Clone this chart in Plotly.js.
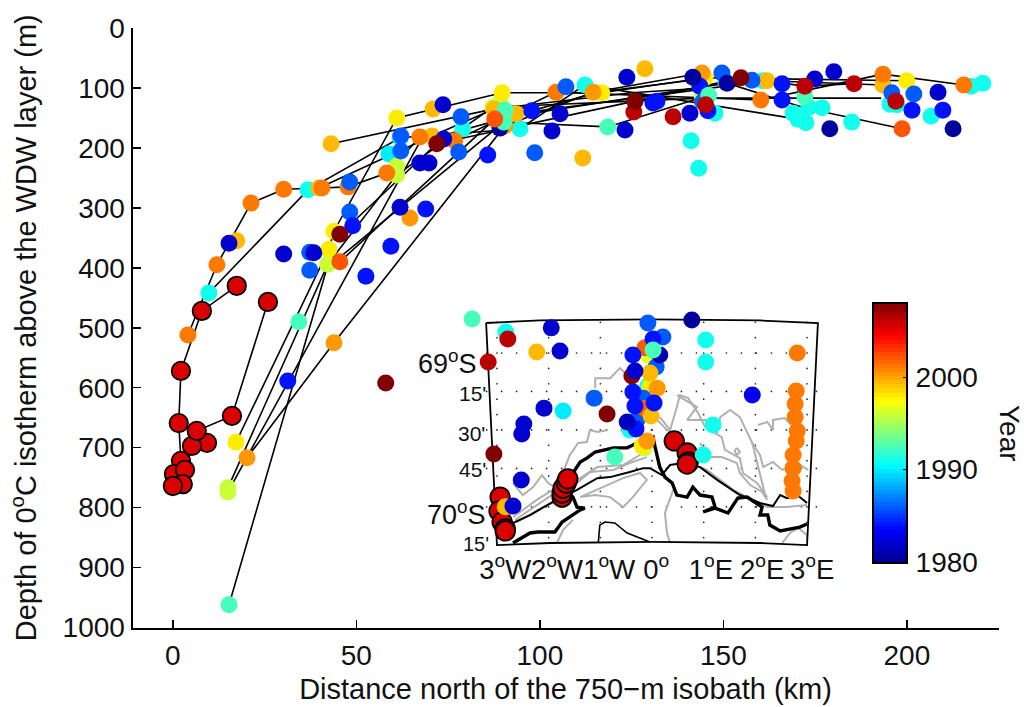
<!DOCTYPE html>
<html><head><meta charset="utf-8">
<script src="https://cdn.plot.ly/plotly-3.0.1.min.js"></script>
<style>html,body{margin:0;padding:0;background:#fff}</style></head>
<body><div id="chart" style="width:1024px;height:707px"></div>
<script>
// ---- Main panel: distance north of isobath (km), depth (m), grouped by year
const turqKm=[9.8,36.8,61.9,79,94.6,112.3,141.2,143.3,147.7,150.7,160.8,169,170.3,172.5,173.3,176.9,185,195.4,197.3,206.6,217.5,220.7];
const turqDepth=[442,270,183,168,168,95,188,234,142,90,88,142,152,158,132,133,157,127,128,147,97,92];
const cyanKm=[58.9]; const cyanDepth=[210];
const limeKm=[15,15,42.2,61,61,87.2,89.1,144.2];
const limeDepth=[767,774,394,230,245,132,125,112];
const yellowKm=[17.2,42.5,43.9,61,89.7,116.9,145,200];
const yellowDepth=[691,369,339,150,108,108,83,88];
const goldKm=[17.4,39.8,43.1,70.6,70.9,87.5,93.5,111.7,128.6,161.9,193.5];
const goldDepth=[355,267,193,180,135,135,143,217,68,88,95];
const amberKm=[20.2,43.9,64.6,90.5,114.5,144.2];
const amberDepth=[717,525,317,163,107,75];
const orangeKm=[4.1,12,21.3,30.2,40.6,47.7,58.3,67.3,76.8,104.4,160.2,193.5,215.5];
const orangeDepth=[512,395,292,269,267,265,242,182,188,107,120,77,95];
const midblueKm=[48.2,48.2,62.1,62.1,37.3,37.3,78.5,77.9,98.6,107.1,144.4,149.6,157.8,195.9,201.9];
const midblueDepth=[307,257,180,205,374,404,148,207,208,98,123,75,87,108,110];
const blueKm=[49,68.9,59.4,52.6,31.3,85.8,97.8,130.8,131.9,143.6,145.8,166,166,201.4,209.8];
const blueDepth=[330,302,364,414,589,212,138,125,122,97,138,93,120,137,137];
const dkblueKm=[15.3,30.2,38.4,61.9,67.3,69.8,73.6,73.8,105.5,103.3,123.2,123.7,140.9,174.9,180.1,208.5];
const dkblueDepth=[359,377,375,299,225,225,128,185,143,172,170,82,142,85,73,107];
const navyKm=[89.1,141.7,151,179,212.6];
const navyDepth=[167,82,92,168,168];
const greenKm=[15.3,34.3,90.5,90.2,118.5,146,172.2];
const greenDepth=[962,490,137,157,165,112,115];
const redorangeKm=[45.5,87.7,198.7];
const redorangeDepth=[390,152,168];
const dkredKm=[125.6,136.3,145.2,172.2,185.6,197];
const dkredDepth=[140,148,128,97,93,122];
const maroonKm=[45.5,58,71.9,125.9,154.8];
const maroonDepth=[344,592,193,122,83];
const redKm=[17.4,25.9,7.9,2.2,16.1,1.6,9.3,5.2,6.5,2.2,0.3,3.3,2.7,0];
const redDepth=[430,457,472,572,647,659,692,697,672,722,744,737,761,764];
const groups=[[turqKm,turqDepth,1991],[cyanKm,cyanDepth,1990],[limeKm,limeDepth,1996],
 [yellowKm,yellowDepth,1998],[goldKm,goldDepth,1999.4],[amberKm,amberDepth,2000.3],[orangeKm,orangeDepth,2001.2],
 [midblueKm,midblueDepth,1986],[blueKm,blueDepth,1984],[dkblueKm,dkblueDepth,1982],[navyKm,navyDepth,1980.5],
 [greenKm,greenDepth,1992.4],[redorangeKm,redorangeDepth,2002.2],[dkredKm,dkredDepth,2006.4],[maroonKm,maroonDepth,2008]];
const redYear=2005.5;

// section lines (km, depth)
const sectionLines=[
 [orangeKm,orangeDepth],
 [yellowKm,yellowDepth],
 [[20.2,43.9,90.5,114.5,144.2],[717,525,163,107,75]],
 [[43.1,87.5,93.5,161.9,193.5],[193,135,143,88,95]],
 [[39.8,70.6,87.5,125,145],[267,180,135,108,100]],
 [[15,42.2,61,87.2,144.2,172,193],[767,394,245,132,117,117,117]],
 [[15,67.3,116,144],[774,190,107,85]],
 [[15.3,42,90.2,118.5,146],[962,400,157,165,112]],
 [[9.8,36.8,61.9,94.6,112.3,147.7,170.3],[442,270,183,168,95,130,152]],
 [[45.5,87.7,151,172,198.7],[390,152,92,133,168]],
 [[45.5,71.9,125.9,154.8,172.2,185.6],[344,193,122,83,97,93]],
 [[17.4,7.9,2.2,1.6,2.2,3.3,0.3,0],[430,472,572,659,722,737,744,764]],
 [[25.9,16.1,6.5,3.3,2.7],[457,647,672,737,761]]
];

// ---- Inset map: longitude (deg, + east), minutes south of 69 deg S
const insetRedLon=[0.43,0.68,0.7,0.68,-1.74,-1.74,-1.72,-1.66,-1.63,-2.94,-2.96,-2.9,-2.84,-2.84];
const insetRedMin=[34.3,39,42.5,43.3,56.2,54.6,52.7,50.7,49.1,56.2,61.6,65.9,68.6,69.4];
const insetLon=[2.81,2.79,2.77,2.77,2.81,2.79,2.73,2.73,2.71,2.73,
 -2.83,1.04,1.04,1.18,0.99,-0.08,-0.43,-1.72,-3.48,-0.72,
 -0.15,-0.19,-0.08,-0.04,
 -0.17,-0.29,0.08,-1.12,0.21,
 -0.14,-0.14,-0.02,-0.04,0.1,-0.1,-2.23,
 -0.39,-0.87,-3.06,-2.79,-3.17,
 -0.37,-0.37,-0.33,0.04,-0.31,0.02,1.94,
 -0.33,-0.48,-2.09,-1.95,-1.78,-2.48,-2.52,-2.53,
 0.15,0.77,0.02,-0.08,-2.84,-2.69];
const insetMin=[0,14.8,19.9,25,30.4,34.3,39.8,44.9,49.9,53.8,
 -8.2,-5.1,3.5,28.1,39.8,12.9,30,22.6,-13.3,40.6,
 37,36.3,0.8,13.3,
 17.6,26.1,5.5,17.6,-6.2,
 -2,21.5,24.6,7.8,13.7,34.3,-0.4,
 9,23.8,39.4,-5.5,3.5,
 0.8,15.2,20.7,19.5,29.6,-5.5,16.4,
 7,26.9,21.5,-9.8,-0.8,27.7,31.6,49.5,
 0.8,-12.9,-1.2,-11.7,60,59.7];
const insetYear=[2001.2,2001.2,2001.2,2001.2,2001.2,2001.2,2001.2,2001.2,2001.2,2001.2,
 1991,1991,1991,1991,1991,1991,1991,1990,1992.4,1992.4,
 1996,1998,1997,1998,
 1986,1986,1986,1986,1986,
 2002,2002,1999.4,1999.4,2000.3,2000.3,1999.4,
 2008,2008,2008,2006.4,2006.4,
 1984,1984,1984,1984,1984,1984,1983,
 1982,1981.5,1982,1982,1982,1982,1982,1982,
 1981,1980.5,1992.4,1986,1999.4,1982];

const frameLon=[-3.21,-2.17,0,2.09,3.21,3,2.09,0,-1.97,-3,-3.21];
const frameMin=[-11.7,-12.7,-13.1,-12.7,-11.7,74.9,74.1,73.7,74.1,74.9,-11.7];
const iceFrontLon=[-2.69,-2.36,-2.21,-1.88,-1.74,-1.39,-1.3,-1.45,-1.53,-1.66,-1.49,-1.39,-1.26,-1.1,-0.75,-0.48,-0.29,0.02,0.06,0.15,0.25,0.39,0.48,0.68,0.79,0.93,1.16,1.22,0.99,1.22,1.47,1.66,1.84,2.13,2.09,2.24,2.28,2.48,2.86,3];
const iceFrontMin=[74.1,70.2,69.8,69.8,65.9,61.2,60.5,60.1,56.2,53.4,45.6,42.5,41,38.6,37,37,35.1,32.8,36.7,44.5,48.4,50.7,55.4,56.2,52.3,55.4,56.2,60.1,62,60.5,62.4,56.6,56.2,60.1,63.2,63.2,67.1,69.4,67.9,66.7];
const isobathLon=[-2.69,-2.36,-1.92,-1.45,-1.06,-0.81,-0.43,-0.17,-0.04,0.19,0.35,0.6,0.93,1.26,1.7,2.09,2.34,2.48,2.61,2.81,3];
const isobathMin=[66.3,63.2,58.1,53.4,48.8,48.4,46.4,44.9,44.9,47.6,43.7,42.9,44.5,49.5,55.4,58.5,59.7,55.4,56.6,55.4,58.5];
const groundingLon=[-1.04,-1.01,-0.91,-0.72,-0.48,-0.04];
const groundingMin=[74.1,67.1,65.9,66.3,70.2,73.7];
const bathyContours=[
 [[-2.69,-2.5,-2.3,-2.13,-2.01,-1.88,-1.72,-1.59,-1.43,-1.26,-1.2,-1.06,-0.85],[50.7,55.4,52.3,47.6,50.7,52.3,46.4,39.8,35.1,34.7,30,30.8,30]],
 [[-1.1,-1.1,-0.81,-0.62,-0.48],[13.7,9.8,9.8,5.9,8.6]],
 [[-2.65,-2.17,-1.88,-1.45,-1.2,-0.75,-0.43,-0.1],[65.1,58.5,54.6,50.7,46.4,45.6,42.9,40.6]],
 [[-2.69,-2.23,-1.92,-1.39,-1.06,-0.56,-0.17],[64,57.3,53.4,48.8,44.5,43.7,39]],
 [[-2.61,-2.11,-1.78],[65.9,60.1,57.3]],
 [[-1.39,-0.95,-0.56,-0.23,-0.1,-0.37,-0.56,-0.81,-1.1,-1.39],[56.2,52.3,48.8,46.8,49.5,56.2,60.1,56.2,55.4,56.2]],
 [[-1.84,-1.72,-1.53],[74.1,69,65.1]],
 [[0.41,0.25,0.29,0.35],[53.4,62.4,70.2,74.1]],
 [[0.74,1.06,1.57,1.95,2.23,2.61,3],[42.9,45.6,53.4,57.3,60.1,60.1,59.3]],
 [[2.52,2.67,2.83,3],[74.1,70.2,68.3,71]],
 [[0.15,0.35,0.48,0.54,0.7,0.89,1.03,1.35,1.41,1.7,1.76,2.03,2.23],[25,30,21.1,16.4,17.6,23.4,28.9,32.8,37.8,41,46.8,50.7,56.2]],
 [[1.26,1.32,1.51,1.7,1.94,2.09,2.15,2.34,2.52,2.81,3.02],[31.2,25,22.2,25,35.1,39.8,44.5,42.5,45.6,42.9,45.6]],
 [[2.05,2.23,2.34,2.34,2.57,2.73],[28.1,26.9,30,26.1,25.4,28.9]],
 [[0.93,1.12,1.35,1.64,1.7,1.9,2.13,2.23],[35.1,40.6,40.6,42.9,46.8,51.5,54.2,57.3]],
 [[1.94,2.09,2.19],[35.1,46.8,55.4]],
 [[1.64,1.7,1.64,1.6,1.64],[37,38.6,39.8,38.2,37]],
 [[0.1,0.29,0.41],[26.1,30,31.2]],
 [[0.48,0.87,0.68,1.06],[16.4,21.1,26.1,26.1]]
];
const gridLons=[-3,-2,-1,0,1,2,3];
const gridMins=[0,15,30,45,60];

const xTickVals=[0,50,100,150,200];
const yTickVals=[0,100,200,300,400,500,600,700,800,900,1000];
const insetXVals=[-2.84,-1.84,-0.83,0.08,1.14,2.13,3.10];
const insetXText=['3<sup>o</sup>W','2<sup>o</sup>W','1<sup>o</sup>W','0<sup>o</sup>','1<sup>o</sup>E','2<sup>o</sup>E','3<sup>o</sup>E'];
const insetYLabels=[['69<sup>o</sup>S',-3.35,3.5,27],["15'",-3.17,15.6,21],["30'",-3.19,31.2,21],["45'",-3.17,45.6,21],['70<sup>o</sup>S',-3.17,62.4,27],["15'",-3.12,74.6,20]];
const colorbarTicks=[1980,1990,2000];
const jet=[[0,'#00008f'],[0.125,'#0000ff'],[0.375,'#00ffff'],[0.625,'#ffff00'],[0.875,'#ff0000'],[1,'#800000']];

const FONT='"Liberation Sans", Arial, sans-serif';
const W=1024,H=707;
const traces=[];
// main lines
sectionLines.forEach(s=>traces.push({x:s[0],y:s[1],mode:'lines',type:'scatter',line:{color:'#000',width:1.6},hoverinfo:'skip',showlegend:false}));
// main dots
let km=[],dep=[],yr=[];
groups.forEach(g=>{g[0].forEach((v,i)=>{km.push(v);dep.push(g[1][i]);yr.push(g[2]);});});
traces.push({x:km,y:dep,mode:'markers',type:'scatter',cliponaxis:false,showlegend:false,
 marker:{size:17,color:yr,coloraxis:'coloraxis',line:{width:0}}});
traces.push({x:redKm,y:redDepth,mode:'markers',type:'scatter',cliponaxis:false,showlegend:false,
 marker:{size:18.5,color:redKm.map(()=>redYear),coloraxis:'coloraxis',line:{width:1.8,color:'#000'}}});
// inset
function ins(x,y,color,width){traces.push({x:x,y:y,xaxis:'x2',yaxis:'y2',mode:'lines',type:'scatter',line:{color:color,width:width},hoverinfo:'skip',showlegend:false});}
const gx=[],gy=[];
gridMins.forEach(m=>{for(let l=-3.2;l<=3.2;l+=0.29){gx.push(l);gy.push(m);}});
gridLons.forEach(l=>{for(let m=-12;m<=74;m+=6){gx.push(l);gy.push(m);}});
traces.push({x:gx,y:gy,xaxis:'x2',yaxis:'y2',mode:'markers',type:'scatter',marker:{size:1.7,color:'#222'},hoverinfo:'skip',showlegend:false});
bathyContours.forEach(c=>ins(c[0],c[1],'#b0b0b0',2));
ins(groundingLon,groundingMin,'#000',1.6);
ins(isobathLon,isobathMin,'#000',2);
ins(iceFrontLon,iceFrontMin,'#000',3.4);
ins(frameLon,frameMin,'#000',1.8);
traces.push({x:insetRedLon,y:insetRedMin,xaxis:'x2',yaxis:'y2',mode:'markers',type:'scatter',cliponaxis:false,showlegend:false,
 marker:{size:19.5,color:insetRedLon.map(()=>redYear),coloraxis:'coloraxis',line:{width:1.8,color:'#000'}}});
traces.push({x:insetLon,y:insetMin,xaxis:'x2',yaxis:'y2',mode:'markers',type:'scatter',cliponaxis:false,showlegend:false,
 marker:{size:17,color:insetYear,coloraxis:'coloraxis',line:{width:0}}});
// colour bar: heatmap of the year scale on its own axes
const cbY=[],cbZ=[];
for(let i=0;i<64;i++){const v=1980+(i+0.5)*28/64;cbY.push(v);cbZ.push([v]);}
traces.push({type:'heatmap',x:[0],y:cbY,z:cbZ,xaxis:'x3',yaxis:'y3',coloraxis:'coloraxis',hoverinfo:'skip',showlegend:false});

const layout={
 width:W,height:H,margin:{l:0,r:0,t:0,b:0},paper_bgcolor:'#fff',plot_bgcolor:'rgba(0,0,0,0)',
 font:{family:FONT,size:28,color:'#111'},showlegend:false,
 xaxis:{domain:[132.5/W,998.6/W],range:[-11,225],tickvals:xTickVals,ticks:'inside',ticklen:8,tickwidth:1.5,tickcolor:'#000',
  showline:true,linewidth:2,linecolor:'#000',showgrid:false,zeroline:false,anchor:'y',automargin:false,ticklabelstandoff:2,
  tickfont:{size:28},title:{text:'Distance north of the 750\u2212m isobath (km)',font:{size:29},standoff:9}},
 yaxis:{domain:[1-627.5/H,1-28/H],range:[1000,0],tickvals:yTickVals,ticks:'inside',ticklen:8,tickwidth:1.5,tickcolor:'#000',
  showline:true,linewidth:2,linecolor:'#000',showgrid:false,zeroline:false,anchor:'x',automargin:false,
  tickfont:{size:28},title:{text:'Depth of 0<sup>o</sup>C isotherm above the WDW layer (m)',font:{size:29},standoff:17}},
 xaxis2:{domain:[470/W,830/W],range:[-3.522,3.444],anchor:'y2',tickvals:insetXVals,ticktext:insetXText,tickangle:0,ticks:'',showline:false,showgrid:false,zeroline:false,
  tickfont:{size:27.5}},
 yaxis2:{domain:[1-550/H,1-310/H],range:[76.83,-16.77],anchor:'x2',visible:false},
 xaxis3:{domain:[873.5/W,906/W],anchor:'y3',range:[-0.5,0.5],showticklabels:false,ticks:'',showgrid:false,zeroline:false,showline:true,mirror:true,linewidth:2,linecolor:'#000'},
 yaxis3:{domain:[1-562/H,1-303.5/H],anchor:'x3',side:'right',range:[1980,2008],tickvals:colorbarTicks,ticks:'inside',ticklen:3,tickwidth:1,tickcolor:'#000',ticklabelstandoff:2,
  showgrid:false,zeroline:false,showline:true,mirror:true,linewidth:2,linecolor:'#000',tickfont:{size:28}},
 coloraxis:{colorscale:jet,cmin:1980,cmax:2008,showscale:false},
 annotations:insetYLabels.map(a=>({xref:'x2',yref:'y2',x:a[1],y:a[2],text:a[0],showarrow:false,xanchor:'right',yanchor:'middle',font:{size:a[3]}}))
  .concat([{xref:'paper',yref:'paper',x:1010/W,y:1-433/H,text:'Year',textangle:90,showarrow:false,xanchor:'center',yanchor:'middle',font:{size:28}}])
};
Plotly.newPlot('chart',traces,layout,{staticPlot:true,displayModeBar:false});
</script></body></html>
